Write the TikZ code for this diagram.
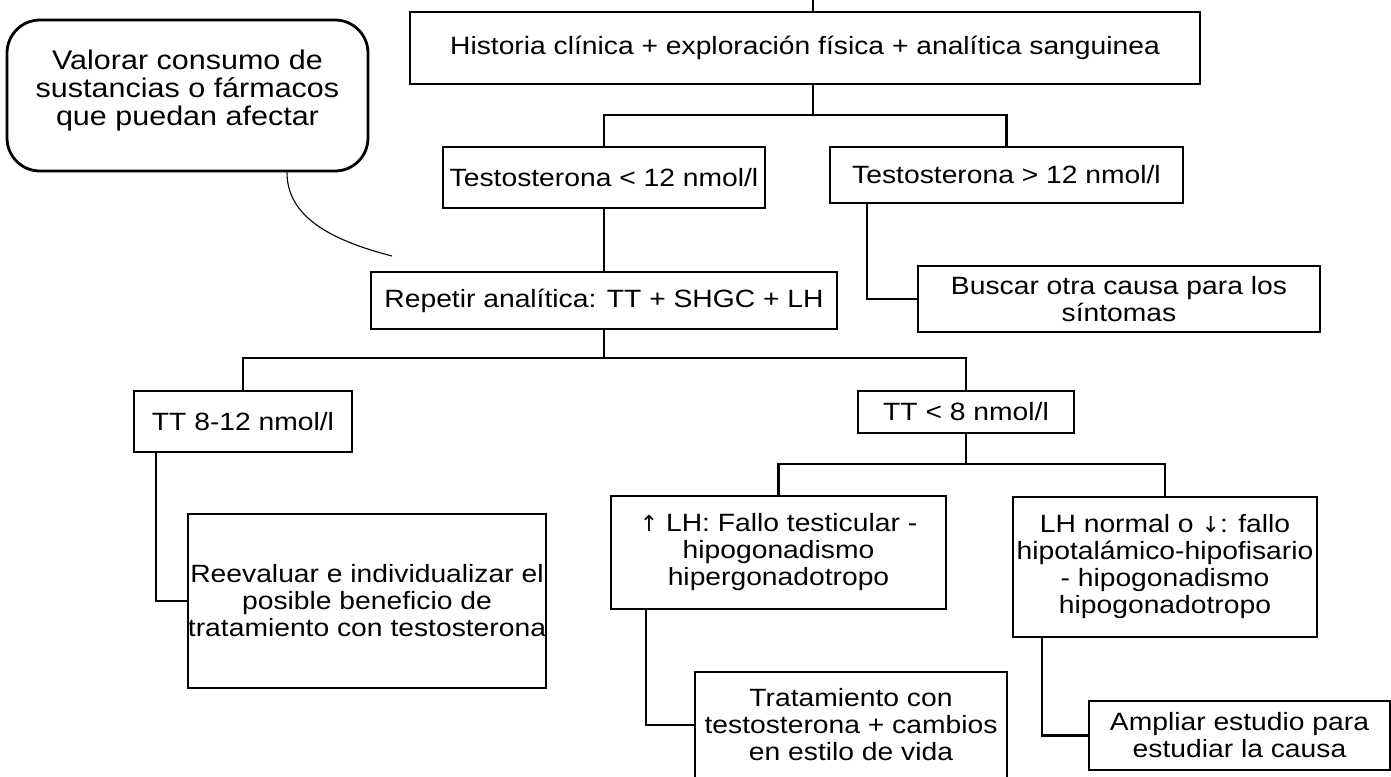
\documentclass[tikz,border=0pt]{standalone}
\usepackage{fontspec}
\setmainfont{Liberation Sans}[FakeStretch=1.13]
\newfontfamily\arrowfont{DejaVu Sans}
\begin{document}
\begin{tikzpicture}[x=1pt,y=-1pt,
  box/.style={draw=black,line width=2.2pt,rectangle,inner sep=0pt,align=center,
    font=\fontsize{25}{27}\selectfont},
  callbox/.style={draw=black,line width=2.8pt,rectangle,rounded corners=33pt,inner sep=0pt,align=center,
    font=\fontsize{27}{28}\selectfont},
  conn/.style={line width=2.2pt,draw=black},
  pointer/.style={line width=1.1pt,draw=black}]
\useasboundingbox (0,0) rectangle (1391,776);
\clip (0,0) rectangle (1391,776);

% callout
\node[callbox,minimum width=361pt,minimum height=151pt] (call) at (187.5,95.5)
  {Valorar consumo de\\sustancias o fármacos\\que puedan afectar\\[-12pt]\mbox{}};

% boxes
\node[box,minimum width=790pt,minimum height=72pt] (A) at (805,48)
  {Historia clínica + exploración física + analítica sanguinea};
\node[box,minimum width=322pt,minimum height=61pt] (B) at (604,177.5)
  {Testosterona < 12 nmol/l};
\node[box,minimum width=353pt,minimum height=56pt] (C) at (1006.5,175)
  {Testosterona > 12 nmol/l};
\node[box,minimum width=466pt,minimum height=57pt] (D) at (604,300.5)
  {Repetir analítica: TT + SHGC + LH};
\node[box,minimum width=402pt,minimum height=66pt] (E) at (1119,299)
  {Buscar otra causa para los\\síntomas};
\node[box,minimum width=218pt,minimum height=61pt] (F) at (243,421.5)
  {TT 8-12 nmol/l};
\node[box,minimum width=216pt,minimum height=42pt] (G) at (966,412)
  {TT < 8 nmol/l};
\node[box,minimum width=335pt,minimum height=113pt] (H) at (778.5,552.5)
  {{\arrowfont\fontsize{22}{27}\selectfont ↑} LH: Fallo testicular -\\hipogonadismo\\hipergonadotropo};
\node[box,minimum width=304pt,minimum height=140pt] (I) at (1165,567)
  {LH normal o {\arrowfont\fontsize{22}{27}\selectfont ↓}: fallo\\hipotalámico-hipofisario\\- hipogonadismo\\hipogonadotropo};
\node[box,minimum width=312pt,minimum height=106pt] (J) at (851,725)
  {Tratamiento con\\testosterona + cambios\\en estilo de vida};
\node[box,minimum width=301pt,minimum height=69pt] (K) at (1239.5,735.5)
  {Ampliar estudio para\\estudiar la causa};
\node[box,minimum width=358pt,minimum height=174pt] (L) at (367,601)
  {Reevaluar e individualizar el\\posible beneficio de\\tratamiento con testosterona};

% helper coordinates
\coordinate (top) at (813,0);
\coordinate (j1) at (813,115);
\coordinate (j2) at (604,358);
\coordinate (j3) at (966,464);
\coordinate (xc) at (867,0);
\coordinate (xf) at (156,0);
\coordinate (xh) at (646,0);
\coordinate (xi) at (1042,0);
\coordinate (xp) at (287,0);
\coordinate (ptip) at (392,256);

% connectors
\draw[conn] (top) -- (A.north -| top);
\draw[conn] (A.south -| j1) -- (j1);
\draw[conn] (B.north) |- (j1) -| (C.north);
\draw[conn] (B.south) -- (B.south |- D.north);
\draw[conn] (C.south -| xc) |- (E.west);
\draw[conn] (D.south) -- (j2);
\draw[conn] (F.north) |- (j2) -| (G.north);
\draw[conn] (G.south) -- (j3);
\draw[conn] (H.north) |- (j3) -| (I.north);
\draw[conn] (F.south -| xf) |- (L.west);
\draw[conn] (H.south -| xh) |- (J.west);
\draw[conn] (I.south -| xi) |- (K.west);

% callout pointer
\draw[pointer] (call.south -| xp) .. controls +(0,44) and +(-62,-16) .. (ptip);
\end{tikzpicture}
\end{document}
